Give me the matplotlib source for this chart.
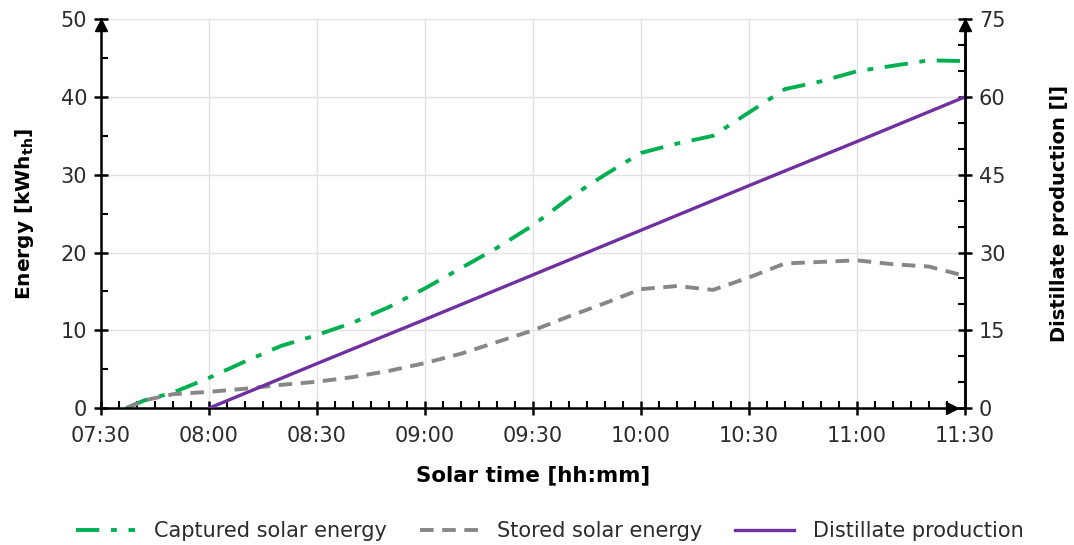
import matplotlib.pyplot as plt
from matplotlib.ticker import MultipleLocator, FuncFormatter

# solar time (hh:mm) and energy readings
cap_time = ["07:37", "07:42", "07:50", "08:00", "08:10", "08:20", "08:30", "08:40",
            "08:50", "09:00", "09:10", "09:20", "09:30", "09:40", "09:50", "10:00",
            "10:10", "10:20", "10:30", "10:40", "10:50", "11:00", "11:10", "11:20", "11:30"]
captured = [0.0, 1.0, 2.0, 3.9, 6.0, 8.0, 9.4, 11.0, 13.0, 15.4, 18.0, 20.6, 23.5,
            27.0, 30.0, 32.8, 34.0, 35.0, 38.0, 41.0, 42.0, 43.3, 44.0, 44.7, 44.6]
stored = [0.0, 1.0, 1.8, 2.1, 2.5, 3.0, 3.4, 4.0, 4.8, 5.8, 7.0, 8.5, 10.0,
          11.8, 13.5, 15.3, 15.7, 15.2, 16.8, 18.6, 18.8, 19.0, 18.5, 18.2, 17.0]

dist_time = ["08:00", "08:30", "09:00", "09:30", "10:00", "10:30", "11:00", "11:30"]
distillate = [0.0, 8.6, 17.1, 25.7, 34.3, 42.9, 51.4, 60.0]

x_ticks = ["07:30", "08:00", "08:30", "09:00", "09:30", "10:00", "10:30", "11:00", "11:30"]


def to_min(t):
    h, m = t.split(":")
    return int(h) * 60 + int(m) - (7 * 60 + 30)


green = "#00b050"
grey = "#878787"
purple = "#7030a0"
txt = "#2b2b2b"

fig = plt.figure(figsize=(10.74, 5.45), dpi=100)
ax = fig.add_axes([0.094, 0.251, 0.8045, 0.714])
ax2 = ax.twinx()

l1, = ax.plot([to_min(t) for t in cap_time], captured, color=green, lw=2.8,
              dashes=(6, 3, 1.5, 3), label="Captured solar energy")
l2, = ax.plot([to_min(t) for t in cap_time], stored, color=grey, lw=2.8,
              dashes=(3.5, 2.2), label="Stored solar energy")
l3, = ax2.plot([to_min(t) for t in dist_time], distillate, color=purple, lw=2.4,
               label="Distillate production")

ax.set_xlim(0, 240)
ax.set_ylim(0, 50)
ax2.set_ylim(0, 75)

ax.xaxis.set_major_locator(MultipleLocator(30))
ax.xaxis.set_minor_locator(MultipleLocator(5))
ax.xaxis.set_major_formatter(FuncFormatter(lambda v, p: x_ticks[int(round(v / 30))]
                                           if 0 <= round(v / 30) < len(x_ticks) else ""))
ax.yaxis.set_major_locator(MultipleLocator(10))
ax.yaxis.set_minor_locator(MultipleLocator(5))
ax2.yaxis.set_major_locator(MultipleLocator(15))
ax2.yaxis.set_minor_locator(MultipleLocator(5))

ax.grid(True, which="major", color="#e2e2e2", lw=1)
ax.set_axisbelow(True)

for a in (ax, ax2):
    a.spines["top"].set_visible(False)
    for s in ("left", "right", "bottom"):
        a.spines[s].set_linewidth(1.8)
        a.spines[s].set_color("black")
ax2.spines["left"].set_visible(False)
ax2.spines["bottom"].set_visible(False)

ax.tick_params(axis="both", which="major", direction="inout", length=10, width=1.8,
               labelsize=15, colors="black", labelcolor=txt, pad=5)
ax.tick_params(axis="x", which="major", pad=8)
ax.tick_params(axis="both", which="minor", direction="in", length=5, width=1.5)
ax.tick_params(axis="y", right=False)
ax2.tick_params(axis="y", which="major", direction="inout", length=10, width=1.8,
                labelsize=15, labelcolor=txt, pad=5)
ax2.tick_params(axis="y", which="minor", direction="in", length=5, width=1.5)

# arrow heads at axis ends
ax.plot([0], [0.985], marker="^", ms=9, color="black", transform=ax.transAxes, clip_on=False)
ax.plot([1], [0.985], marker="^", ms=9, color="black", transform=ax.transAxes, clip_on=False)
ax.plot([0.985], [0], marker=">", ms=9, color="black", transform=ax.transAxes, clip_on=False)

ax.set_xlabel("Solar time [hh:mm]", fontsize=15.4, fontweight="bold", labelpad=14)
ax.set_ylabel("Energy [kWh$_\\mathbf{th}$]", fontsize=14.5, fontweight="bold", labelpad=18)
ax2.set_ylabel("Distillate production [l]", fontsize=14, fontweight="bold", labelpad=32)

leg = fig.legend(handles=[l1, l2, l3], loc="center", bbox_to_anchor=(0.512, 0.026), ncol=3,
                 frameon=False, handlelength=2.8, handletextpad=0.9, columnspacing=1.6,
                 prop={"size": 15})
for t in leg.get_texts():
    t.set_color(txt)

fig.savefig("out.png", dpi=100)
